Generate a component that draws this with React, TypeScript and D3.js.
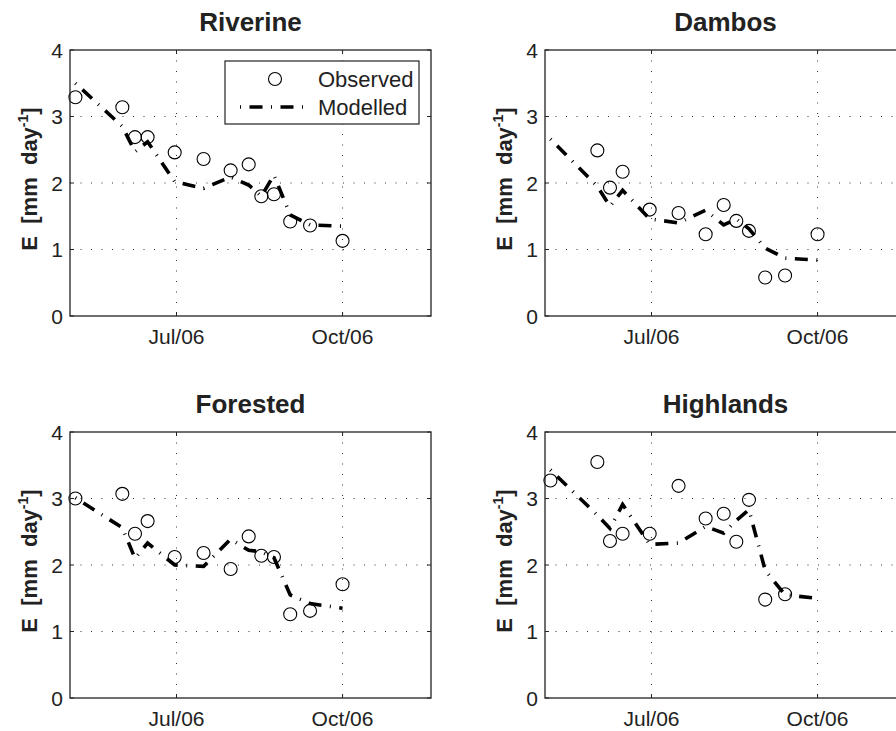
import React from "react";
import * as d3 from "d3";

const W = 896;
const H = 731;

// sampling dates shared by all sites (model is evaluated on the same days)
const obsDates = [
  "2006-05-06", "2006-06-01", "2006-06-08", "2006-06-15", "2006-06-30",
  "2006-07-16", "2006-07-31", "2006-08-10", "2006-08-17", "2006-08-24",
  "2006-09-02", "2006-09-13", "2006-10-01",
];
const xDomain = ["2006-05-03", "2006-11-19"];
const xTickDates = ["2006-07-01", "2006-10-01"];
const yTicks = [0, 1, 2, 3, 4];
const yGrid = [1, 2, 3];

const riverineObs = [3.29, 3.14, 2.69, 2.69, 2.46, 2.36, 2.19, 2.28, 1.8, 1.83, 1.42, 1.36, 1.13];
const riverineMod = [3.5, 2.85, 2.47, 2.62, 2.02, 1.92, 2.09, 1.97, 1.8, 2.12, 1.52, 1.37, 1.35];

const dambosObs = [null, 2.49, 1.93, 2.17, 1.6, 1.55, 1.23, 1.67, 1.43, 1.28, 0.58, 0.61, 1.23];
const dambosMod = [2.66, 1.95, 1.65, 1.89, 1.46, 1.4, 1.59, 1.37, 1.46, 1.31, 1.02, 0.87, 0.84];

const forestedObs = [3.0, 3.07, 2.47, 2.66, 2.12, 2.18, 1.94, 2.43, 2.14, 2.12, 1.26, 1.31, 1.71];
const forestedMod = [3.01, 2.56, 2.1, 2.33, 2.0, 1.98, 2.39, 2.22, 2.2, 2.11, 1.55, 1.42, 1.35];

const highlandsObs = [3.27, 3.55, 2.36, 2.47, 2.47, 3.19, 2.7, 2.77, 2.35, 2.98, 1.48, 1.56, null];
const highlandsMod = [3.43, 2.75, 2.55, 2.91, 2.31, 2.33, 2.58, 2.48, 2.67, 2.83, 1.92, 1.55, 1.5];

const titles = ["Riverine", "Dambos", "Forested", "Highlands"];
const legendLabels = ["Observed", "Modelled"];

const parse = d3.utcParse("%Y-%m-%d");
const fmt = d3.utcFormat("%b/%y");

// layout
const pw = 361;
const ph = 266;
const lefts = [70, 545];
const tops = [50, 432];
const ink = "#222";
const font = "'Liberation Sans', Arial, Helvetica, sans-serif";
const dashDot = "1 8.5 13 8.5";
const markerR = 6.5;

type PanelProps = {
  title: string;
  obs: (number | null)[];
  mod: number[];
  x0: number;
  y0: number;
  legend?: boolean;
};

function Panel({ title, obs, mod, x0, y0, legend }: PanelProps) {
  const x = d3.scaleUtc().domain(xDomain.map(d => parse(d)!)).range([0, pw]);
  const y = d3.scaleLinear().domain([0, 4]).range([ph, 0]);
  const dates = obsDates.map(d => parse(d)!);
  const xt = xTickDates.map(d => parse(d)!);

  const line = d3
    .line<number>()
    .x((_, i) => x(dates[i]))
    .y(d => y(d));

  const tickLen = 4;

  return (
    <g transform={`translate(${x0},${y0})`}>
      {/* grid */}
      {yGrid.map(v => (
        <line key={"gy" + v} x1={0} x2={pw} y1={y(v)} y2={y(v)}
          stroke="#333" strokeWidth={1} strokeDasharray="1 9.5" />
      ))}
      {xt.map((d, i) => (
        <line key={"gx" + i} x1={x(d)} x2={x(d)} y1={0} y2={ph}
          stroke="#333" strokeWidth={1} strokeDasharray="1 9.5" />
      ))}

      {/* ticks (inward, all four sides) */}
      {yTicks.map(v => (
        <g key={"yt" + v}>
          <line x1={0} x2={tickLen} y1={y(v)} y2={y(v)} stroke={ink} />
          <line x1={pw - tickLen} x2={pw} y1={y(v)} y2={y(v)} stroke={ink} />
          <text x={-7} y={y(v)} dy="0.36em" textAnchor="end" fontSize={21}
            fill={ink} fontFamily={font}>{v}</text>
        </g>
      ))}
      {xt.map((d, i) => (
        <g key={"xt" + i}>
          <line x1={x(d)} x2={x(d)} y1={ph} y2={ph - tickLen} stroke={ink} />
          <line x1={x(d)} x2={x(d)} y1={0} y2={tickLen} stroke={ink} />
          <text x={x(d)} y={ph + 28} textAnchor="middle" fontSize={21}
            fill={ink} fontFamily={font}>{fmt(d)}</text>
        </g>
      ))}

      {/* modelled */}
      <path d={line(mod) || ""} fill="none" stroke="#000" strokeWidth={3.6}
        strokeDasharray={dashDot} />

      {/* observed */}
      {obs.map((v, i) =>
        v == null ? null : (
          <circle key={"o" + i} cx={x(dates[i])} cy={y(v)} r={markerR}
            fill="none" stroke="#000" strokeWidth={1.1} />
        )
      )}

      {/* frame */}
      <rect x={0} y={0} width={pw} height={ph} fill="none" stroke={ink} strokeWidth={1.3} />

      {/* title */}
      <text x={pw / 2} y={-19} textAnchor="middle" fontSize={26} fontWeight="bold"
        fill={ink} fontFamily={font}>{title}</text>

      {/* y label */}
      <text transform={`translate(-33,${ph / 2 - 4}) rotate(-90)`} textAnchor="middle"
        fontSize={22} fontWeight="bold" fill={ink} fontFamily={font}>
        {"E\u00a0\u00a0[mm\u00a0\u00a0day"}
        <tspan fontSize={14} dy={-9}>-1</tspan>
        <tspan dy={9}>]</tspan>
      </text>

      {legend && (
        <g transform={`translate(${pw - 206},11)`}>
          <rect x={0} y={0} width={194} height={63} fill="#fff" stroke={ink} strokeWidth={1.2} />
          <circle cx={50} cy={18} r={markerR} fill="none" stroke="#000" strokeWidth={1.1} />
          <line x1={15} x2={83} y1={46} y2={46} stroke="#000" strokeWidth={3.6}
            strokeDasharray={dashDot} />
          <text x={93} y={26} fontSize={22} fill={ink} fontFamily={font}>{legendLabels[0]}</text>
          <text x={93} y={54} fontSize={22} fill={ink} fontFamily={font}>{legendLabels[1]}</text>
        </g>
      )}
    </g>
  );
}

export default function App() {
  const series = [
    { obs: riverineObs, mod: riverineMod },
    { obs: dambosObs, mod: dambosMod },
    { obs: forestedObs, mod: forestedMod },
    { obs: highlandsObs, mod: highlandsMod },
  ];
  return (
    <>
      <style>{`body{margin:0;background:#fff}`}</style>
      <svg width={W} height={H} style={{ display: "block", background: "#fff" }}>
        {series.map((s, i) => (
          <Panel
            key={titles[i]}
            title={titles[i]}
            obs={s.obs}
            mod={s.mod}
            x0={lefts[i % 2]}
            y0={tops[Math.floor(i / 2)]}
            legend={i === 0}
          />
        ))}
      </svg>
    </>
  );
}
